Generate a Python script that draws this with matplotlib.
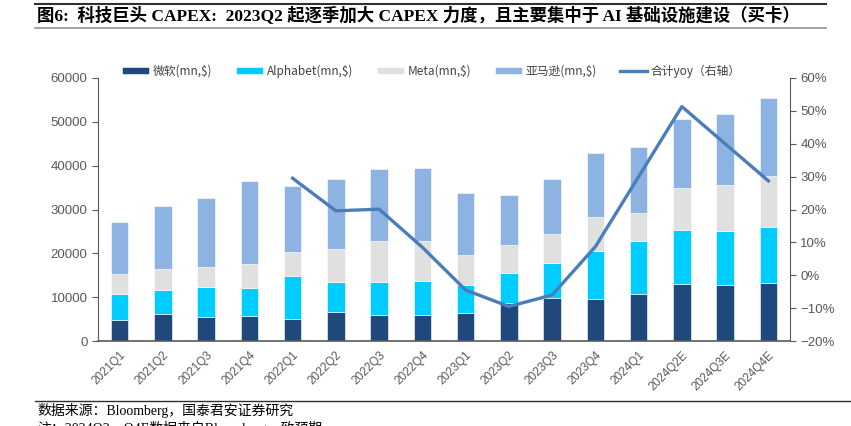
import matplotlib.pyplot as plt
import numpy as np
from matplotlib.ticker import PercentFormatter

# data
quarters = ["2021Q1", "2021Q2", "2021Q3", "2021Q4", "2022Q1", "2022Q2", "2022Q3", "2022Q4",
            "2023Q1", "2023Q2", "2023Q3", "2023Q4", "2024Q1", "2024Q2E", "2024Q3E", "2024Q4E"]
msft = [4800, 6200, 5500, 5700, 5100, 6700, 6000, 6000, 6500, 8700, 9700, 9600, 10800, 13100, 12800, 13300]
alphabet = [6000, 5500, 6900, 6400, 9800, 6800, 7400, 7700, 6300, 6900, 8100, 10900, 12000, 12200, 12300, 12600]
meta = [4400, 4700, 4400, 5400, 5500, 7600, 9400, 9100, 6900, 6300, 6600, 7800, 6400, 9500, 10400, 11700]
amazon = [12000, 14300, 15800, 19000, 15000, 15800, 16400, 16700, 14100, 11500, 12500, 14700, 15000, 15800, 16400, 17800]
yoy = [None, None, None, None, 29.5, 19.6, 20.1, 8.5, -4.5, -9.5, -6.0, 8.7, 30.0, 51.3, 40.0, 28.7]

c_msft = "#1f497d"
c_alph = "#00ccff"
c_meta = "#e0e0e0"
c_amzn = "#8db3e2"
c_line = "#4a7ebb"
grey = "#595959"

cjk = ["Noto Sans CJK SC", "DejaVu Sans"]
serif = ["Liberation Serif", "Noto Sans CJK SC"]

fig = plt.figure(figsize=(8.51, 4.26), dpi=100)
ax = fig.add_axes([98 / 851, 1 - 341 / 426, (790 - 98) / 851, (341 - 78) / 426])

x = np.arange(len(quarters))
w = 0.4
b1 = np.array(msft)
b2 = b1 + np.array(alphabet)
b3 = b2 + np.array(meta)
ax.bar(x, msft, w, color=c_msft, edgecolor="white", linewidth=0.4, label="微软(mn,$)")
ax.bar(x, alphabet, w, bottom=b1, color=c_alph, edgecolor="white", linewidth=0.4, label="Alphabet(mn,$)")
ax.bar(x, meta, w, bottom=b2, color=c_meta, edgecolor="white", linewidth=0.4, label="Meta(mn,$)")
ax.bar(x, amazon, w, bottom=b3, color=c_amzn, edgecolor="white", linewidth=0.4, label="亚马逊(mn,$)")

ax.set_xlim(-0.5, len(quarters) - 0.5)
ax.set_ylim(0, 60000)
ax.set_yticks(range(0, 60001, 10000))
ax.set_xticks(x)
ax.set_xticklabels(quarters, rotation=45, ha="right", rotation_mode="anchor", fontsize=8.5,
                   color=grey, family="Liberation Sans")
ax.tick_params(axis="x", length=0, pad=6)
ax.tick_params(axis="y", labelsize=9.5, colors=grey, length=4, color=grey)
for t in ax.get_yticklabels():
    t.set_family("Liberation Sans")
ax.spines["top"].set_visible(False)
ax.spines["right"].set_visible(False)
ax.spines["left"].set_color(grey)
ax.spines["bottom"].set_color(grey)
ax.spines["bottom"].set_linewidth(1.2)

ax2 = ax.twinx()
yv = np.array([np.nan if v is None else v for v in yoy], dtype=float)
ax2.plot(x, yv, color=c_line, linewidth=2.4, label="合计yoy（右轴）")
ax2.set_ylim(-20, 60)
ax2.set_yticks(range(-20, 61, 10))
ax2.yaxis.set_major_formatter(PercentFormatter(decimals=0))
ax2.tick_params(axis="y", labelsize=9.5, colors=grey, length=4, color=grey)
for t in ax2.get_yticklabels():
    t.set_family("Liberation Sans")
ax2.spines["top"].set_visible(False)
ax2.spines["left"].set_visible(False)
ax2.spines["bottom"].set_visible(False)
ax2.spines["right"].set_color(grey)

h1, l1 = ax.get_legend_handles_labels()
h2, l2 = ax2.get_legend_handles_labels()
leg = fig.legend(h1 + h2, l1 + l2, loc="center", bbox_to_anchor=(0.507, 1 - 71 / 426), ncol=5,
                 frameon=False, prop={"family": cjk, "size": 8.5}, handlelength=2.3,
                 handleheight=0.5, columnspacing=2.0, handletextpad=0.3)
for t in leg.get_texts():
    t.set_color("#404040")

# title, rules and footnotes
fig.text(37 / 851, 1 - 16 / 426, "图6:  科技巨头 CAPEX:  2023Q2 起逐季加大 CAPEX 力度，且主要集中于 AI 基础设施建设（买卡）",
         family=serif, weight="bold", fontsize=12.5, va="center", ha="left")
fig.add_artist(plt.Line2D([35 / 851, 826 / 851], [1 - 4 / 426, 1 - 4 / 426], color="#303030", linewidth=1.5))
fig.add_artist(plt.Line2D([35 / 851, 826 / 851], [1 - 28 / 426, 1 - 28 / 426], color="#909090", linewidth=1.2))
fig.add_artist(plt.Line2D([35 / 851, 1.0], [1 - 401 / 426, 1 - 401 / 426], color="#303030", linewidth=1.0))
fig.text(37 / 851, 1 - 411 / 426, "数据来源：Bloomberg，国泰君安证券研究", family=serif, fontsize=10,
         va="center", ha="left")
fig.text(37 / 851, 1 - 429 / 426, "注：2024Q2—Q4E数据来自Bloomberg一致预期", family=serif, fontsize=10,
         va="center", ha="left")

fig.savefig("out.png", dpi=100)
